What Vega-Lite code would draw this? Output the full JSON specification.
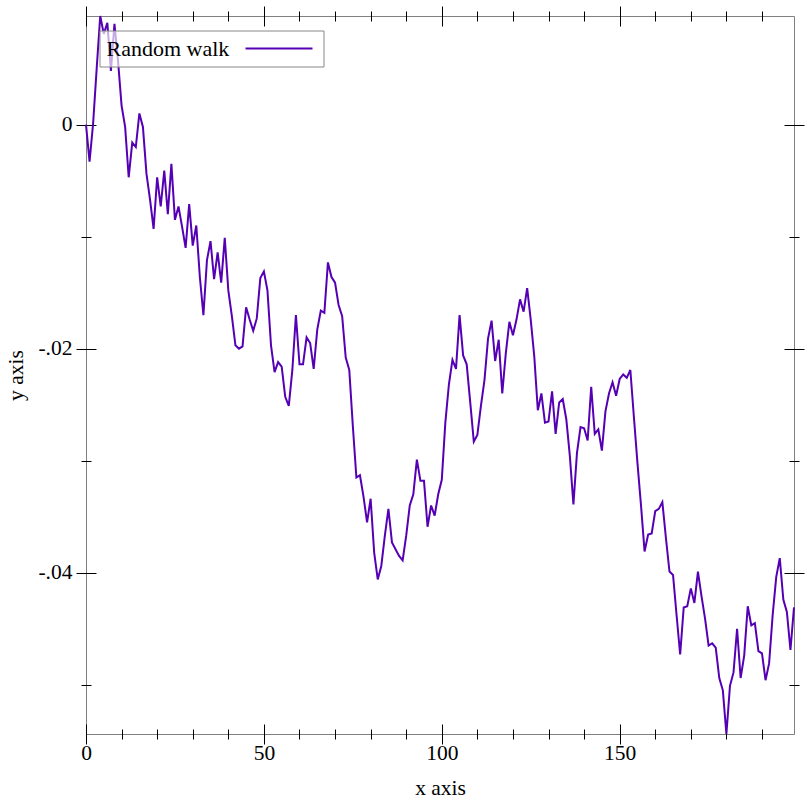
{
  "$schema": "https://vega.github.io/schema/vega-lite/v6.json",
  "autosize": {"type": "none"},
  "padding": {"left": 86, "top": 16, "right": 18, "bottom": 78},
  "width": 708,
  "height": 718,
  "background": "white",
  "config": {
    "view": {"stroke": "#808080", "strokeWidth": 1},
    "axis": {
      "domain": false,
      "grid": false,
      "tickColor": "black",
      "tickWidth": 1,
      "labelFont": "Liberation Serif",
      "labelFontSize": 21.5,
      "labelColor": "black",
      "titleFont": "Liberation Serif",
      "titleFontSize": 21.5,
      "titleFontWeight": "normal",
      "titleColor": "black",
      "labelOverlap": false,
      "labelFlush": false
    }
  },
  "data": {
    "values": [
      {"x": 0, "y": 0.0}, {"x": 1, "y": -0.0033}, {"x": 2, "y": 0.0001}, {"x": 3, "y": 0.005}, {"x": 4, "y": 0.0097},
      {"x": 5, "y": 0.0081}, {"x": 6, "y": 0.0091}, {"x": 7, "y": 0.0048}, {"x": 8, "y": 0.009}, {"x": 9, "y": 0.0057},
      {"x": 10, "y": 0.0017}, {"x": 11, "y": -0.0002}, {"x": 12, "y": -0.0047}, {"x": 13, "y": -0.0016}, {"x": 14, "y": -0.002},
      {"x": 15, "y": 0.001}, {"x": 16, "y": -0.0002}, {"x": 17, "y": -0.0044}, {"x": 18, "y": -0.0067}, {"x": 19, "y": -0.0093},
      {"x": 20, "y": -0.0047}, {"x": 21, "y": -0.0073}, {"x": 22, "y": -0.0041}, {"x": 23, "y": -0.008}, {"x": 24, "y": -0.0035},
      {"x": 25, "y": -0.0085}, {"x": 26, "y": -0.0073}, {"x": 27, "y": -0.0091}, {"x": 28, "y": -0.011}, {"x": 29, "y": -0.0071},
      {"x": 30, "y": -0.0108}, {"x": 31, "y": -0.009}, {"x": 32, "y": -0.0136}, {"x": 33, "y": -0.017}, {"x": 34, "y": -0.0121},
      {"x": 35, "y": -0.0104}, {"x": 36, "y": -0.0138}, {"x": 37, "y": -0.0114}, {"x": 38, "y": -0.0141}, {"x": 39, "y": -0.0101},
      {"x": 40, "y": -0.0148}, {"x": 41, "y": -0.0171}, {"x": 42, "y": -0.0197}, {"x": 43, "y": -0.02}, {"x": 44, "y": -0.0198},
      {"x": 45, "y": -0.0163}, {"x": 46, "y": -0.0174}, {"x": 47, "y": -0.0184}, {"x": 48, "y": -0.0173}, {"x": 49, "y": -0.0137},
      {"x": 50, "y": -0.0131}, {"x": 51, "y": -0.0148}, {"x": 52, "y": -0.0197}, {"x": 53, "y": -0.0221}, {"x": 54, "y": -0.0212},
      {"x": 55, "y": -0.0216}, {"x": 56, "y": -0.0243}, {"x": 57, "y": -0.0251}, {"x": 58, "y": -0.0219}, {"x": 59, "y": -0.017},
      {"x": 60, "y": -0.0214}, {"x": 61, "y": -0.0214}, {"x": 62, "y": -0.019}, {"x": 63, "y": -0.0195}, {"x": 64, "y": -0.0218},
      {"x": 65, "y": -0.0183}, {"x": 66, "y": -0.0166}, {"x": 67, "y": -0.0168}, {"x": 68, "y": -0.0123}, {"x": 69, "y": -0.0136},
      {"x": 70, "y": -0.0141}, {"x": 71, "y": -0.0161}, {"x": 72, "y": -0.0171}, {"x": 73, "y": -0.0208}, {"x": 74, "y": -0.0219},
      {"x": 75, "y": -0.0269}, {"x": 76, "y": -0.0315}, {"x": 77, "y": -0.0313}, {"x": 78, "y": -0.0332}, {"x": 79, "y": -0.0355},
      {"x": 80, "y": -0.0334}, {"x": 81, "y": -0.0382}, {"x": 82, "y": -0.0406}, {"x": 83, "y": -0.0394}, {"x": 84, "y": -0.0367},
      {"x": 85, "y": -0.0343}, {"x": 86, "y": -0.0373}, {"x": 87, "y": -0.0379}, {"x": 88, "y": -0.0385}, {"x": 89, "y": -0.0389},
      {"x": 90, "y": -0.0367}, {"x": 91, "y": -0.034}, {"x": 92, "y": -0.033}, {"x": 93, "y": -0.0299}, {"x": 94, "y": -0.0318},
      {"x": 95, "y": -0.0318}, {"x": 96, "y": -0.0359}, {"x": 97, "y": -0.034}, {"x": 98, "y": -0.0349}, {"x": 99, "y": -0.033},
      {"x": 100, "y": -0.0317}, {"x": 101, "y": -0.0266}, {"x": 102, "y": -0.0232}, {"x": 103, "y": -0.021}, {"x": 104, "y": -0.0218},
      {"x": 105, "y": -0.017}, {"x": 106, "y": -0.0206}, {"x": 107, "y": -0.0214}, {"x": 108, "y": -0.0248}, {"x": 109, "y": -0.0283},
      {"x": 110, "y": -0.0277}, {"x": 111, "y": -0.0251}, {"x": 112, "y": -0.0228}, {"x": 113, "y": -0.0191}, {"x": 114, "y": -0.0175},
      {"x": 115, "y": -0.0211}, {"x": 116, "y": -0.0192}, {"x": 117, "y": -0.024}, {"x": 118, "y": -0.0204}, {"x": 119, "y": -0.0176},
      {"x": 120, "y": -0.0188}, {"x": 121, "y": -0.0174}, {"x": 122, "y": -0.0156}, {"x": 123, "y": -0.0167}, {"x": 124, "y": -0.0146},
      {"x": 125, "y": -0.0174}, {"x": 126, "y": -0.0207}, {"x": 127, "y": -0.0255}, {"x": 128, "y": -0.024}, {"x": 129, "y": -0.0266},
      {"x": 130, "y": -0.0265}, {"x": 131, "y": -0.0238}, {"x": 132, "y": -0.0276}, {"x": 133, "y": -0.0248}, {"x": 134, "y": -0.0245},
      {"x": 135, "y": -0.0263}, {"x": 136, "y": -0.0296}, {"x": 137, "y": -0.0339}, {"x": 138, "y": -0.0293}, {"x": 139, "y": -0.027},
      {"x": 140, "y": -0.0271}, {"x": 141, "y": -0.0282}, {"x": 142, "y": -0.0234}, {"x": 143, "y": -0.0276}, {"x": 144, "y": -0.0272},
      {"x": 145, "y": -0.0291}, {"x": 146, "y": -0.0256}, {"x": 147, "y": -0.024}, {"x": 148, "y": -0.023}, {"x": 149, "y": -0.0242},
      {"x": 150, "y": -0.0227}, {"x": 151, "y": -0.0223}, {"x": 152, "y": -0.0226}, {"x": 153, "y": -0.0219}, {"x": 154, "y": -0.0261},
      {"x": 155, "y": -0.0302}, {"x": 156, "y": -0.034}, {"x": 157, "y": -0.0381}, {"x": 158, "y": -0.0366}, {"x": 159, "y": -0.0365},
      {"x": 160, "y": -0.0345}, {"x": 161, "y": -0.0343}, {"x": 162, "y": -0.0337}, {"x": 163, "y": -0.0369}, {"x": 164, "y": -0.0399},
      {"x": 165, "y": -0.0402}, {"x": 166, "y": -0.0438}, {"x": 167, "y": -0.0473}, {"x": 168, "y": -0.0431}, {"x": 169, "y": -0.043},
      {"x": 170, "y": -0.0414}, {"x": 171, "y": -0.0427}, {"x": 172, "y": -0.0399}, {"x": 173, "y": -0.0421}, {"x": 174, "y": -0.0441},
      {"x": 175, "y": -0.0465}, {"x": 176, "y": -0.0463}, {"x": 177, "y": -0.0467}, {"x": 178, "y": -0.0494}, {"x": 179, "y": -0.0505},
      {"x": 180, "y": -0.0544}, {"x": 181, "y": -0.0501}, {"x": 182, "y": -0.0489}, {"x": 183, "y": -0.045}, {"x": 184, "y": -0.0494},
      {"x": 185, "y": -0.0474}, {"x": 186, "y": -0.043}, {"x": 187, "y": -0.0447}, {"x": 188, "y": -0.0445}, {"x": 189, "y": -0.047},
      {"x": 190, "y": -0.0472}, {"x": 191, "y": -0.0496}, {"x": 192, "y": -0.0481}, {"x": 193, "y": -0.0438}, {"x": 194, "y": -0.0404},
      {"x": 195, "y": -0.0387}, {"x": 196, "y": -0.0424}, {"x": 197, "y": -0.0435}, {"x": 198, "y": -0.0469}, {"x": 199, "y": -0.0431}
    ]
  },
  "resolve": {"axis": {"x": "independent", "y": "independent"}},
  "layer": [
    {
      "mark": {"type": "line", "strokeWidth": 2},
      "encoding": {
        "x": {
          "field": "x", "type": "quantitative",
          "scale": {"domain": [0, 199], "nice": false, "zero": false},
          "axis": {"orient": "bottom", "values": [0, 50, 100, 150], "offset": -10, "tickSize": 20, "labelPadding": -2, "title": "x axis", "titlePadding": 14}
        },
        "y": {
          "field": "y", "type": "quantitative",
          "scale": {"domain": [-0.0544, 0.0097], "nice": false, "zero": false},
          "axis": {"orient": "left", "values": [0, -0.02, -0.04], "offset": -10, "tickSize": 20, "labelPadding": 4,
                   "labelExpr": "datum.value == 0 ? '0' : '-.' + format(round(abs(datum.value) * 100), '02d')",
                   "title": "y axis", "titlePadding": 10}
        },
        "color": {
          "datum": "Random walk", "type": "nominal",
          "scale": {"range": ["#5500b5"]},
          "legend": {
            "orient": "none", "legendX": 13.5, "legendY": 14.5,
            "title": null,
            "symbolType": "M 64 0 L 97.5 0", "symbolSize": 16, "symbolStrokeWidth": 2,
            "labelFont": "Liberation Serif", "labelFontSize": 22, "labelColor": "black", "labelOffset": -22, "labelLimit": 300,
            "padding": 7, "fillColor": "rgba(255,255,255,0.667)", "strokeColor": "#888888"
          }
        }
      }
    },
    {
      "mark": {"type": "line", "strokeWidth": 2, "opacity": 0},
      "encoding": {
        "x": {"field": "x", "type": "quantitative",
              "axis": {"orient": "bottom", "values": [10, 20, 30, 40, 60, 70, 80, 90, 110, 120, 130, 140, 160, 170, 180, 190], "offset": -5, "tickSize": 10, "labels": false, "title": null}},
        "y": {"field": "y", "type": "quantitative",
              "axis": {"orient": "left", "values": [-0.01, -0.03, -0.05], "offset": -5, "tickSize": 10, "labels": false, "title": null}}
      }
    },
    {
      "mark": {"type": "line", "strokeWidth": 2, "opacity": 0},
      "encoding": {
        "x": {"field": "x", "type": "quantitative",
              "axis": {"orient": "top", "values": [0, 50, 100, 150], "offset": -10, "tickSize": 20, "labels": false, "title": null}},
        "y": {"field": "y", "type": "quantitative",
              "axis": {"orient": "right", "values": [0, -0.02, -0.04], "offset": -10, "tickSize": 20, "labels": false, "title": null}}
      }
    },
    {
      "mark": {"type": "line", "strokeWidth": 2, "opacity": 0},
      "encoding": {
        "x": {"field": "x", "type": "quantitative",
              "axis": {"orient": "top", "values": [10, 20, 30, 40, 60, 70, 80, 90, 110, 120, 130, 140, 160, 170, 180, 190], "offset": -5, "tickSize": 10, "labels": false, "title": null}},
        "y": {"field": "y", "type": "quantitative",
              "axis": {"orient": "right", "values": [-0.01, -0.03, -0.05], "offset": -5, "tickSize": 10, "labels": false, "title": null}}
      }
    }
  ]
}
